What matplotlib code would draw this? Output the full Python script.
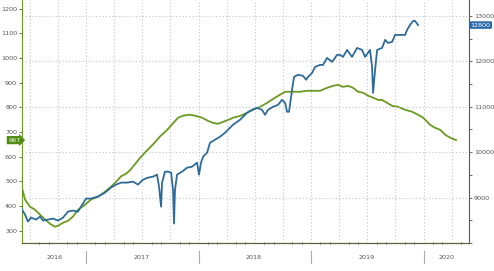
import matplotlib
matplotlib.use("Agg")
import matplotlib.pyplot as plt
from matplotlib.ticker import MultipleLocator

# US oil rig count (left axis), decimal year -> rigs
rig_years = [2016.431, 2016.458, 2016.502, 2016.547, 2016.591, 2016.636, 2016.680, 2016.724,
             2016.751, 2016.796, 2016.840, 2016.884, 2016.929, 2016.991, 2017.044, 2017.107,
             2017.169, 2017.222, 2017.267, 2017.311, 2017.356, 2017.391, 2017.436, 2017.480,
             2017.542, 2017.596, 2017.658, 2017.720, 2017.773, 2017.818, 2017.862, 2017.924,
             2017.969, 2018.031, 2018.084, 2018.129, 2018.173, 2018.218, 2018.280, 2018.307,
             2018.369, 2018.431, 2018.484, 2018.547, 2018.609, 2018.662, 2018.724, 2018.769,
             2018.831, 2018.902, 2018.964, 2019.018, 2019.080, 2019.142, 2019.196, 2019.240,
             2019.284, 2019.329, 2019.373, 2019.418, 2019.462, 2019.507, 2019.551, 2019.596,
             2019.631, 2019.676, 2019.720, 2019.773, 2019.836, 2019.898, 2019.951, 2019.996,
             2020.058, 2020.102, 2020.147, 2020.191, 2020.236, 2020.289]
rig_count = [474, 426, 397, 385, 365, 345, 328, 316,
             320, 332, 340, 357, 385, 405, 426, 438,
             458, 478, 498, 520, 531, 545, 570, 595,
             625, 650, 682, 708, 735, 758, 766, 770,
             766, 758, 745, 737, 733, 741, 752, 758,
             765, 778, 790, 802, 818, 834, 851, 863,
             863, 863, 867, 867, 867, 879, 887, 891,
             883, 887, 879, 863, 859, 847, 839, 830,
             830, 818, 806, 802, 790, 782, 770, 758,
             729, 717, 709, 689, 677, 667]

# US crude production (right axis), decimal year -> kb/d
prod_years = [2016.431, 2016.458, 2016.484, 2016.511, 2016.556, 2016.591, 2016.618, 2016.662,
              2016.707, 2016.751, 2016.796, 2016.840, 2016.884, 2016.929, 2016.956, 2017.000,
              2017.044, 2017.107, 2017.169, 2017.222, 2017.267, 2017.311, 2017.364, 2017.418,
              2017.462, 2017.507, 2017.551, 2017.596, 2017.631, 2017.649, 2017.667, 2017.676,
              2017.702, 2017.729, 2017.756, 2017.773, 2017.782, 2017.791, 2017.809, 2017.853,
              2017.898, 2017.942, 2017.987, 2018.004, 2018.022, 2018.040, 2018.076, 2018.102,
              2018.147, 2018.191, 2018.236, 2018.280, 2018.307, 2018.369, 2018.431, 2018.476,
              2018.520, 2018.564, 2018.591, 2018.618, 2018.662, 2018.707, 2018.742, 2018.769,
              2018.787, 2018.804, 2018.831, 2018.849, 2018.884, 2018.929, 2018.956, 2018.973,
              2019.009, 2019.036, 2019.080, 2019.107, 2019.142, 2019.187, 2019.231, 2019.258,
              2019.284, 2019.320, 2019.364, 2019.409, 2019.453, 2019.480, 2019.524, 2019.542,
              2019.551, 2019.569, 2019.587, 2019.631, 2019.658, 2019.684, 2019.720, 2019.747,
              2019.791, 2019.836, 2019.853, 2019.880, 2019.907, 2019.924, 2019.951]
production = [8736, 8626, 8472, 8560, 8516, 8582, 8494, 8516,
              8538, 8494, 8560, 8692, 8714, 8692, 8802, 8978,
              8978, 9022, 9110, 9220, 9286, 9330, 9330, 9352,
              9286, 9396, 9440, 9462, 9506, 9242, 8802, 9330,
              9571, 9571, 9550, 9176, 8428, 9176, 9506, 9571,
              9659, 9681, 9769, 9506, 9769, 9901, 9989, 10209,
              10275, 10341, 10429, 10539, 10605, 10714, 10868, 10934,
              10978, 10934, 10824, 10934, 11000, 11044, 11154, 11088,
              10890, 10890, 11374, 11660, 11704, 11682, 11594, 11660,
              11747, 11879, 11923, 11923, 12077, 11989, 12143, 12143,
              12099, 12253, 12099, 12297, 12253, 12099, 12253, 11879,
              11308, 11813, 12253, 12297, 12473, 12407, 12429, 12583,
              12583, 12583, 12693, 12803, 12891, 12891, 12800]

year_labels = ["2016", "2017", "2018", "2019", "2020"]
year_label_pos = [2016.72, 2017.49, 2018.49, 2019.49, 2020.2]
year_bounds = [2017, 2018, 2019, 2020]

green = "#6a9a22"
blue = "#2f6b9a"
tick_col = "#555555"

fig = plt.figure(figsize=(4.94, 2.71), dpi=100)
ax = fig.add_axes([0.0445, 0.1033, 0.905, 0.8967])
ax2 = ax.twinx()

ax.plot(rig_years, rig_count, color=green, lw=1.3, zorder=3)
ax2.plot(prod_years, production, color=blue, lw=1.3, zorder=3)

ax.set_xlim(2016.431, 2020.404)
ax.set_ylim(250, 1235)
ax2.set_ylim(8000, 13352)

# quarterly vertical grid, monthly ticks
quarters = [2016.5 + 0.25 * i for i in range(16)]
ax.set_xticks(quarters)
ax.set_xticklabels([])
ax.tick_params(axis="x", which="major", length=0)
ax.xaxis.set_minor_locator(MultipleLocator(1 / 12))
ax.tick_params(axis="x", which="minor", length=2, direction="inout", color=tick_col, width=0.6)
ax.grid(axis="x", color="#c4c4c4", ls=(0, (1, 2)), lw=0.8)

ax.yaxis.set_major_locator(MultipleLocator(100))
ax.tick_params(axis="y", labelsize=4.6, colors=tick_col, length=2.5, width=0.6, pad=1)
ax2.yaxis.set_major_locator(MultipleLocator(1000))
ax2.yaxis.set_minor_locator(MultipleLocator(500))
ax2.tick_params(axis="y", which="both", labelsize=4.6, colors=tick_col, length=2.5, width=0.6, pad=1)
ax2.grid(axis="y", color="#c4c4c4", ls=(0, (1, 2)), lw=0.8)
ax2.set_yticks([9000, 10000, 11000, 12000, 13000])
ax2.set_yticklabels(["9000", "10000", "11000", "12000", "13000"])

for a in (ax, ax2):
    a.spines["top"].set_visible(False)
ax.spines["left"].set_color(green)
ax2.spines["left"].set_visible(False)
ax.spines["right"].set_visible(False)
ax2.spines["right"].set_color("#3d5f7c")
ax2.spines["bottom"].set_color("#55663d")
ax.spines["bottom"].set_color("#55663d")

xt = ax.get_xaxis_transform()
for lab, pos in zip(year_labels, year_label_pos):
    ax.text(pos, -0.058, lab, transform=xt, ha="center", va="center", fontsize=4.6, color=tick_col)
for b in year_bounds:
    ax.plot([b, b], [-0.033, -0.082], transform=xt, color="#aaaaaa", lw=0.8, clip_on=False)

# last value tags
ax.annotate("667", xy=(0, rig_count[-1]), xycoords=("axes fraction", "data"),
            xytext=(-1, 0), textcoords="offset points", ha="right", va="center",
            fontsize=4.6, color="white",
            bbox=dict(boxstyle="rarrow,pad=0.25", fc="#4f8a12", ec="none"))
ax2.annotate("12800", xy=(1, production[-1]), xycoords=("axes fraction", "data"),
             xytext=(1.2, 0), textcoords="offset points", ha="left", va="center",
             fontsize=4.6, color="white",
             bbox=dict(boxstyle="round,pad=0.2", fc="#2a6aa8", ec="none"))

fig.savefig("out.png", dpi=100)
